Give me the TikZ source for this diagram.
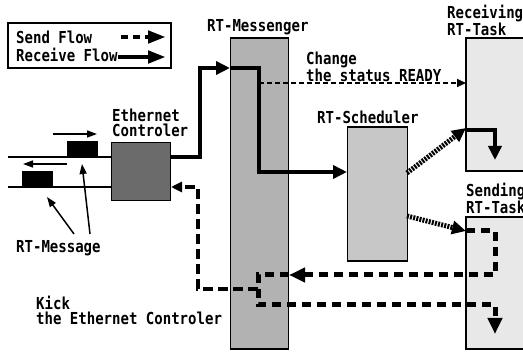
\documentclass[tikz,border=0pt]{standalone}
\usepackage{fontspec}
\setmainfont{DejaVu Sans Mono}[FakeStretch=0.85]
\usetikzlibrary{arrows.meta}
\begin{document}
\begin{tikzpicture}[x=1pt,y=-1pt,
  font=\fontsize{16.5}{15}\selectfont\bfseries,
  lbl/.style={inner sep=0pt, anchor=west, align=left},
  box/.style={draw, line width=1.6pt, inner sep=0pt},
  recv/.style={line width=4.5pt, -{Triangle[length=14pt,width=13pt]}},
  sendA/.style={line width=5pt, dash pattern=on 9pt off 6pt, -{Triangle[length=16pt,width=14pt]}},
  kick/.style={line width=4.5pt, dash pattern=on 10pt off 5pt, -{Triangle[length=11pt,width=10pt]}},
  hatch/.style={line width=5pt, dash pattern=on 2pt off 1.2pt, -{Triangle[length=14pt,width=13pt]}},
  chg/.style={line width=1.6pt, dash pattern=on 5pt off 3pt, -{Triangle[length=9pt,width=8pt]}},
  thin/.style={line width=1.5pt, -{Triangle[length=10pt,width=7pt]}},
  wire/.style={line width=1.5pt}]
\useasboundingbox (0,0) rectangle (523,352);

% legend
\node[draw, line width=1.4pt, minimum width=163pt, minimum height=45pt, inner sep=0pt] (legend) at (89.5,45.5) {};
\node[lbl] (tsend) at (16,37) {Send Flow};
\node[lbl] (trecv) at (16,55) {Receive Flow};
\coordinate (ls1) at (121,37);
\coordinate (ls2) at (166,37);
\coordinate (lr1) at (118,57);
\coordinate (lr2) at (166,57);
\draw[line width=4.5pt, dash pattern=on 7pt off 5pt, -{Triangle[length=18pt,width=12pt]}] (ls1) -- (ls2);
\draw[line width=4.5pt, -{Triangle[length=18pt,width=12pt]}] (lr1) -- (lr2);

% boxes
\node[box, fill=black!30, minimum width=58pt, minimum height=311pt] (msg) at (259.5,193.5) {};
\node[box, fill=black!58, minimum width=59pt, minimum height=58pt] (eth) at (141,171.5) {};
\node[box, fill=black!22, minimum width=60pt, minimum height=134pt] (sch) at (377.5,194) {};
\node[box, fill=black!9, minimum width=74pt, minimum height=133pt] (rtask) at (503,104.5) {};
\node[box, fill=black!9, minimum width=74pt, minimum height=132pt] (stask) at (503,283) {};

% labels
\node[lbl] (lmsg) at (207,27) {RT-Messenger};
\node[lbl] (leth) at (112,122.5) {Ethernet\\Controler};
\node[lbl] (lsch) at (317,117) {RT-Scheduler};
\node[lbl] (lrt) at (447,20.5) {Receiving\\RT-Task};
\node[lbl] (lst) at (466,198.5) {Sending\\RT-Task};
\node[lbl] (lchg) at (306,66.5) {Change\\the status READY};
\node[lbl] (lrtm) at (16,248) {RT-Message};
\node[lbl] (lkick) at (36,310.5) {Kick\\the Ethernet Controler};

% network wires and messages
\coordinate (w1) at (8,157);
\coordinate (w2) at (8,187);
\draw[wire] (w1) -- (eth.west |- w1);
\draw[wire] (w2) -- (eth.west |- w2);
\node[fill=black, inner sep=0pt, minimum width=31pt, minimum height=16pt] (m1) at (82.5,149) {};
\node[fill=black, inner sep=0pt, minimum width=31pt, minimum height=16pt] (m2) at (37.5,179) {};
\coordinate (a1s) at (53,134);
\coordinate (a1e) at (97,134);
\coordinate (a2s) at (67,164);
\coordinate (a2e) at (23,164);
\draw[thin] (a1s) -- (a1e);
\draw[thin] (a2s) -- (a2e);
\coordinate (p1) at (74,234);
\coordinate (p2) at (90,234);
\draw[thin] (p1) -- (47,197);
\draw[thin] (p2) -- (82,164);

% receive flow
\coordinate (ethOut) at (171,157);
\coordinate (msgIn) at (230,68);
\coordinate (schIn) at (347,172);
\draw[recv] (ethOut) -- (200,157) -- (200,68) -- (msgIn);
\draw[recv] (msgIn) -- (259,68) -- (259,172) -- (schIn);
\draw[chg] (259,83) -- (466,83);
\coordinate (rtIn) at (466,130);
\draw[recv] (rtIn) -- (495,130) -- (495,160);

% scheduler dispatch
\draw[hatch] (407,173) -- (466,128);
\draw[hatch] (407,216) -- (466,231);

% send flow
\coordinate (stIn) at (466,231);
\coordinate (msgR) at (289,275);
\coordinate (ethIn) at (171,187);
\draw[sendA] (stIn) -- (495,231) -- (495,275) -- (msgR);
\draw[sendA] (msgR) -- (258,275) -- (258,305) -- (495,305) -- (495,334);
\draw[kick] (258,289) -- (198,289) -- (198,187) -- (ethIn);
\end{tikzpicture}
\end{document}
